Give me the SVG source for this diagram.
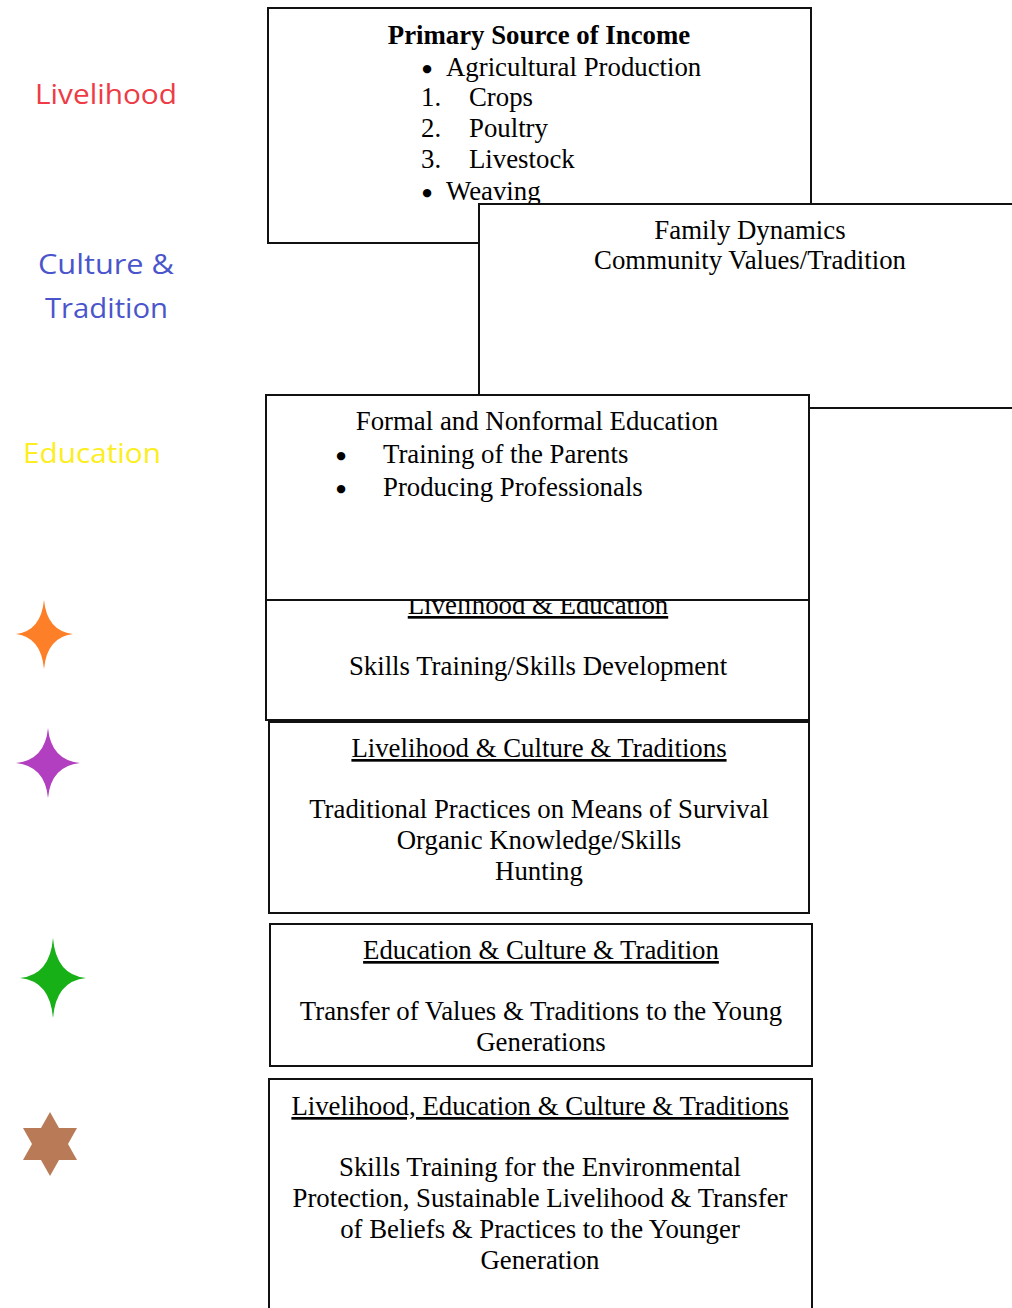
<svg xmlns="http://www.w3.org/2000/svg" width="1012" height="1308" viewBox="0 0 1012 1308">
<style>
.box{fill:#fff;stroke:#111;stroke-width:2}
.t{font-family:"Liberation Serif","Times New Roman",serif;font-size:26.8px;fill:#000}
.c{text-anchor:middle}
.b{font-weight:bold}
.u{text-decoration:underline}
.bul{font-family:"DejaVu Sans",sans-serif;font-size:11px;text-anchor:middle;fill:#000}
.lab{font-family:"Open Sans","Noto Sans",sans-serif;font-size:28px}
</style>
<rect width="1012" height="1308" fill="#fff"/>
<g id="legend">
<text class="lab" x="35" y="104" fill="#ee3b45" textLength="142" lengthAdjust="spacingAndGlyphs">Livelihood</text>
<text class="lab" x="38" y="274" fill="#4a55cc" textLength="136" lengthAdjust="spacingAndGlyphs">Culture &amp;</text>
<text class="lab" x="45" y="318" fill="#4a55cc" textLength="123" lengthAdjust="spacingAndGlyphs">Tradition</text>
<text class="lab" x="23" y="463" fill="#fcee21" textLength="138" lengthAdjust="spacingAndGlyphs">Education</text>
<path id="star-orange" fill="#fd7f27" d="M44,600 Q47,631 73,634 Q47,637 44,669 Q41,637 16,634 Q41,631 44,600 Z"/>
<path id="star-purple" fill="#b13fbf" d="M48,728 Q51,760 80,763 Q51,766 48,798 Q45,766 16,763 Q45,760 48,728 Z"/>
<path id="star-green" fill="#17b117" d="M53,938 Q56,975 86,978 Q56,981 53,1018 Q50,981 20,978 Q50,975 53,938 Z"/>
<polygon id="star-brown" fill="#b97b57" points="50,1112 59,1128 77,1128 68,1144 77,1160 59,1160 50,1176 41,1160 23,1160 32,1144 23,1128 41,1128"/>
</g>
<g id="connectors"></g>
<g id="n-livelihood">
<rect class="box" x="268" y="8" width="543" height="235"/>
<text class="t c b" x="539" y="44">Primary Source of Income</text>
<text class="bul" x="427" y="72">●</text><text class="t" x="446" y="76">Agricultural Production</text>
<text class="t" x="421" y="106">1.</text><text class="t" x="469" y="106">Crops</text>
<text class="t" x="421" y="137">2.</text><text class="t" x="469" y="137">Poultry</text>
<text class="t" x="421" y="168">3.</text><text class="t" x="469" y="168">Livestock</text>
<text class="bul" x="427" y="196">●</text><text class="t" x="446" y="200">Weaving</text>
</g>
<g id="n-culture">
<rect class="box" x="479" y="204" width="545" height="204"/>
<text class="t c" x="750" y="239">Family Dynamics</text>
<text class="t c" x="750" y="269">Community Values/Tradition</text>
</g>
<g id="n-liv-edu">
<rect class="box" x="266" y="578" width="543" height="142"/>
<text class="t c u" x="538" y="614">Livelihood &amp; Education</text>
<text class="t c" x="538" y="675">Skills Training/Skills Development</text>
</g>
<g id="n-education">
<rect class="box" x="266" y="395" width="543" height="205"/>
<text class="t c" x="537" y="430">Formal and Nonformal Education</text>
<text class="bul" x="341" y="459">●</text><text class="t" x="383" y="463">Training of the Parents</text>
<text class="bul" x="341" y="492">●</text><text class="t" x="383" y="496">Producing Professionals</text>
</g>
<g id="n-liv-cult">
<rect class="box" x="269" y="722" width="540" height="191"/>
<text class="t c u" x="539" y="757">Livelihood &amp; Culture &amp; Traditions</text>
<text class="t c" x="539" y="818">Traditional Practices on Means of Survival</text>
<text class="t c" x="539" y="849">Organic Knowledge/Skills</text>
<text class="t c" x="539" y="880">Hunting</text>
</g>
<g id="n-edu-cult">
<rect class="box" x="270" y="924" width="542" height="142"/>
<text class="t c u" x="541" y="959">Education &amp; Culture &amp; Tradition</text>
<text class="t c" x="541" y="1020">Transfer of Values &amp; Traditions to the Young</text>
<text class="t c" x="541" y="1051">Generations</text>
</g>
<g id="n-all">
<rect class="box" x="269" y="1079" width="543" height="240"/>
<text class="t c u" x="540" y="1115">Livelihood, Education &amp; Culture &amp; Traditions</text>
<text class="t c" x="540" y="1176">Skills Training for the Environmental</text>
<text class="t c" x="540" y="1207">Protection, Sustainable Livelihood &amp; Transfer</text>
<text class="t c" x="540" y="1238">of Beliefs &amp; Practices to the Younger</text>
<text class="t c" x="540" y="1269">Generation</text>
</g>
</svg>
